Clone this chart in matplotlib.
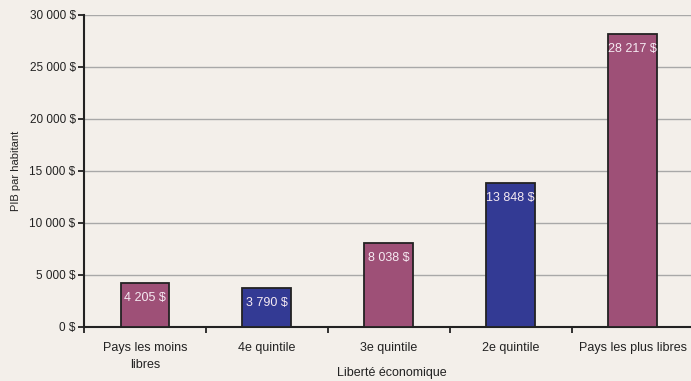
import numpy as np
import matplotlib.pyplot as plt
from matplotlib.ticker import FuncFormatter, FixedLocator

categories = ["Pays les moins\nlibres", "4e quintile", "3e quintile", "2e quintile", "Pays les plus libres"]
values = [4205, 3790, 8038, 13848, 28217]
labels = ["4 205 $", "3 790 $", "8 038 $", "13 848 $", "28 217 $"]
colors = ["#9E5077", "#333A94", "#9E5077", "#333A94", "#9E5077"]

bg = "#F3EFEA"
plt.rcParams['font.family'] = ['Liberation Sans', 'DejaVu Sans']

fig = plt.figure(figsize=(6.91, 3.81), dpi=100, facecolor=bg)
ax = fig.add_axes([84 / 691, 1 - 327 / 381, 609.5 / 691, (327 - 15) / 381], facecolor=bg)

x = np.arange(len(categories))
bars = ax.bar(x, values, width=0.4, color=colors, edgecolor="#222222", linewidth=1.3, zorder=3)

for b, lab in zip(bars, labels):
    ax.annotate(lab, (b.get_x() + b.get_width() / 2, b.get_height()),
                xytext=(0, -6.5), textcoords="offset points", ha="center", va="top",
                color="#F5EAF2", fontsize=9, zorder=4)

ax.set_xlim(-0.5, len(categories) - 0.5)
ax.set_ylim(0, 30000)
ax.set_yticks(np.arange(0, 30001, 5000))
ax.yaxis.set_major_formatter(FuncFormatter(lambda v, p: f"{int(v):,} $".replace(",", " ")))
ax.grid(axis="y", color="#A8A8A8", linewidth=1, zorder=0)

ax.set_xticks(x)
ax.set_xticklabels(categories, fontsize=9, color="#222222", linespacing=1.55)
ax.xaxis.set_minor_locator(FixedLocator(np.arange(-0.5, len(categories), 1.0)))
ax.tick_params(axis="x", which="major", length=0, pad=11)
ax.tick_params(axis="x", which="minor", length=4, width=1.3, color="#222222")
ax.tick_params(axis="y", length=4, width=1.3, color="#222222", labelsize=8.5, labelcolor="#222222", pad=2)

for s in ["top", "right"]:
    ax.spines[s].set_visible(False)
for s in ["left", "bottom"]:
    ax.spines[s].set_linewidth(1.5)
    ax.spines[s].set_color("#222222")

ax.set_ylabel("PIB par habitant", fontsize=8, color="#222222", labelpad=6)
fig.text(392 / 691, 1 - 373 / 381, "Liberté économique", fontsize=9,
         color="#222222", ha="center", va="center")

fig.savefig("out.png", dpi=100, facecolor=bg)
